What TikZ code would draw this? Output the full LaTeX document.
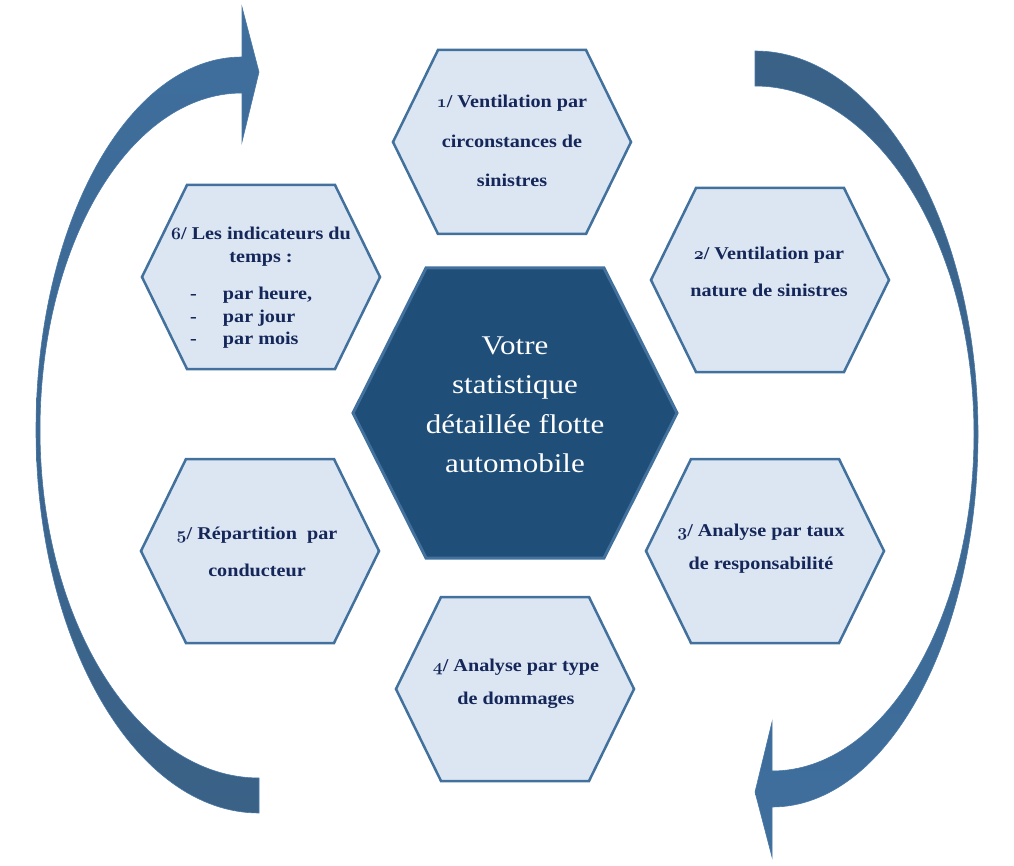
\documentclass[tikz,border=0pt]{standalone}
\usepackage{fontspec}
\setmainfont{Liberation Serif}
\newfontfamily\hexfont{Liberation Serif}[FakeStretch=1.12]
\newfontfamily\cenfont{Liberation Serif}[FakeStretch=1.15]
\newcommand\osn[1]{{\fontencoding{OML}\fontfamily{cmm}\fontseries{b}\fontshape{it}\selectfont #1}}
\newcommand\listitem[1]{\makebox[142pt][l]{\makebox[33pt][l]{-}#1}}
\definecolor{hexfill}{HTML}{DCE6F2}
\definecolor{hexline}{HTML}{41719C}
\definecolor{darkhex}{HTML}{1F4E79}
\definecolor{navytext}{HTML}{152659}
\definecolor{arrowlight}{HTML}{3F6F9E}
\definecolor{arrowdark}{HTML}{3A6186}
\definecolor{arrowedge}{HTML}{4A78A6}
\begin{document}
\begin{tikzpicture}[x=1pt,y=-1pt,
  hexbox/.style={draw=hexline, line width=2.5pt, fill=hexfill, line join=miter},
  centerbox/.style={draw=hexline, line width=3pt, fill=darkhex, line join=miter},
  hextext/.style={text=navytext, font=\hexfont\bfseries\fontsize{18}{#1}\selectfont, align=center, inner sep=0pt},
  centertext/.style={text=white, font=\cenfont\fontsize{27}{39.5}\selectfont, align=center, inner sep=0pt},
  arrowshape/.style={draw=arrowedge, line width=0.6pt}
]
\useasboundingbox (0,0) rectangle (1014,866);

% curved arrows
\path[arrowshape, top color=arrowlight, bottom color=arrowdark]
  (242,57) .. controls (128,57) and (36,224) .. (36,430)
  .. controls (36,642) and (136,813) .. (259,813) -- (259,778)
  .. controls (138,778) and (40,622) .. (40,430)
  .. controls (40,244) and (130,93) .. (242,93)
  -- (242,142) -- (259,72) -- (242,7) -- cycle;
\path[arrowshape, top color=arrowdark, bottom color=arrowlight]
  (772,807) .. controls (886,807) and (978,640) .. (978,434)
  .. controls (978,222) and (878,51) .. (755,51) -- (755,86)
  .. controls (876,86) and (974,242) .. (974,434)
  .. controls (974,620) and (884,771) .. (772,771)
  -- (772,722) -- (755,792) -- (772,857) -- cycle;

% small hexagons
\path[hexbox, shift={(512,142)}] (-74,-92) -- (74,-92) -- (119,0) -- (74,92) -- (-74,92) -- (-119,0) -- cycle;
\path[hexbox, shift={(770,280)}] (-74,-92) -- (74,-92) -- (119,0) -- (74,92) -- (-74,92) -- (-119,0) -- cycle;
\path[hexbox, shift={(765,551)}] (-74,-92) -- (74,-92) -- (119,0) -- (74,92) -- (-74,92) -- (-119,0) -- cycle;
\path[hexbox, shift={(515,689)}] (-74,-92) -- (74,-92) -- (119,0) -- (74,92) -- (-74,92) -- (-119,0) -- cycle;
\path[hexbox, shift={(260,551)}] (-74,-92) -- (74,-92) -- (119,0) -- (74,92) -- (-74,92) -- (-119,0) -- cycle;
\path[hexbox, shift={(261,277)}] (-74,-92) -- (74,-92) -- (119,0) -- (74,92) -- (-74,92) -- (-119,0) -- cycle;

% central hexagon
\path[centerbox, shift={(515,413)}] (-89,-145) -- (89,-145) -- (162,0) -- (89,145) -- (-89,145) -- (-162,0) -- cycle;

% texts
\node[centertext] (c) at (515,405) {Votre\\statistique\\détaillée flotte\\automobile};
\node[hextext=39.5] (h1) at (512,141) {\osn{1}/ Ventilation par\\circonstances de\\sinistres};
\node[hextext=37] (h2) at (769,272) {\osn{2}/ Ventilation par\\nature de sinistres};
\node[hextext=33] (h3) at (761,549) {\osn{3}/ Analyse par taux\\de responsabilité};
\node[hextext=33] (h4) at (516,684) {\osn{4}/ Analyse par type\\de dommages};
\node[hextext=37] (h5) at (257,552) {\osn{5}/ Répartition~~par\\conducteur};
\node[hextext=22.5] (h6) at (261,288) {\osn{6}/ Les indicateurs du\\temps :\\[15pt]\listitem{par heure,}\\\listitem{par jour}\\\listitem{par mois}};
\end{tikzpicture}
\end{document}
